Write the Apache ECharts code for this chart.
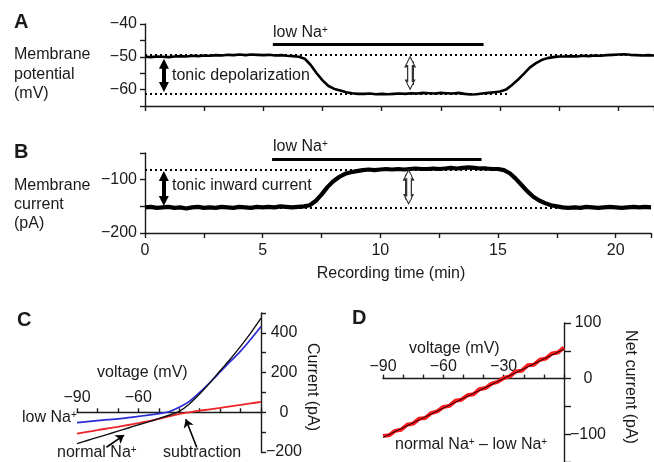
<!DOCTYPE html>
<html lang="en">
<head>
<meta charset="UTF-8">
<script src="https://cdn.jsdelivr.net/npm/echarts@6.0.0/dist/echarts.min.js"></script>
<title>low Na+ recording</title>
<style>
  body { margin: 0; background: #fff; }
  #main { width: 654px; height: 462px; }
</style>
</head>
<body>
<div id="main"></div>
<script type="text/javascript">
// ---- panel A / B : time course (min)
var timeMin = [0,0.25,0.5,0.75,1,1.25,1.5,1.75,2,2.25,2.5,2.75,3,3.25,3.5,3.75,4,4.25,4.5,4.75,
  5,5.25,5.5,5.75,6,6.25,6.5,6.75,7,7.25,7.5,7.75,8,8.25,8.5,8.75,9,9.25,9.5,9.75,
  10,10.25,10.5,10.75,11,11.25,11.5,11.75,12,12.25,12.5,12.75,13,13.25,13.5,13.75,14,14.25,14.5,14.75,
  15,15.25,15.5,15.75,16,16.25,16.5,16.75,17,17.25,17.5,17.75,18,18.25,18.5,18.75,19,19.25,19.5,19.75,
  20,20.25,20.5,20.75,21,21.25,21.5];
// membrane potential (mV)
var potentialMv = [-50.0,-50.1,-49.9,-50.0,-50.1,-49.9,-49.8,-49.9,-49.7,-49.8,-49.6,-49.7,-49.5,-49.6,-49.4,
  -49.5,-49.3,-49.5,-49.3,-49.4,-49.5,-49.4,-49.6,-49.5,-49.7,-49.8,-50.0,
  -50.6,-52.5,-55.0,-57.2,-58.9,-59.8,-60.3,-60.8,-61.1,-61.3,
  -61.3,-61.2,-61.4,-61.3,-61.4,-61.3,-61.2,-61.3,-61.1,-61.2,
  -61.0,-61.1,-61.2,-61.0,-61.1,-61.2,-61.0,-61.3,-61.5,-61.4,
  -61.2,-61.0,-60.8,-60.6,
  -60.0,-58.6,-57.0,-55.2,-53.3,-52.0,-51.0,-50.4,-50.1,-49.9,
  -49.9,-49.8,-49.9,-49.7,-49.8,-49.6,-49.7,-49.5,-49.4,-49.3,-49.2,-49.4,-49.5,-49.6,-49.5,-49.6];
// membrane current (pA)
var currentPa = [-152,-151,-153,-152,-151,-153,-152,-154,-152,-151,
  -153,-152,-153,-151,-152,-153,-151,-152,-153,-151,
  -152,-151,-152,-150,-151,-152,-151,
  -150,-148,-140,-128,-114,-103,-95,-89,-86,-84,
  -82,-81,-82,-81,-80,-81,-80,-81,-80,-79,
  -80,-80,-79,-80,-79,-78,-79,-78,-77,-78,
  -79,-79,-80,-80,
  -82,-88,-98,-110,-122,-132,-139,-144,-148,-150,
  -152,-153,-152,-153,-151,-152,-153,-152,-151,-152,-153,-152,-151,-152,-151,-152];

// reference levels, low Na+ bar, arrows
var levelsA = [-49.5, -61.2];      // dotted lines (mV)
var levelsB = [-81, -152];         // dotted lines (pA)
var lowNaMin = [5.4, 14.3];        // low Na+ application (min)
var barA = -46.3, barB = -61;
var arrowSolidA = [[0.8, -52.1], [0.8, -59.2]];
var arrowHollowA = [[11.2, -51.4], [11.2, -58.6]];
var arrowSolidB = [[0.8, -93], [0.8, -140]];
var arrowHollowB = [[11.2, -91], [11.2, -137]];

// ---- panel C : I-V curves
var voltC = [-90,-85,-80,-75,-70,-65,-60,-55,-50,-45,-40,-35,-30,-25,-20,-15,-10,-5,0];
var normalNa = [-158,-142,-126,-111,-95,-79,-63,-48,-32,-15,5,42,92,148,209,268,332,400,474];
var lowNa = [-52,-47,-42,-37,-33,-27,-21,-14,-7,3,25,55,100,150,203,256,308,368,432];
var subtraction = [-108,-99,-90,-81,-73,-64,-55,-45,-33,-21,-9,0,8,15,22,30,37,45,52];
var pointerNormal = [[-75.6, -176], [-67, -115]];
var pointerSub = [[-31.4, -177], [-36.8, -35]];

// ---- panel D : net current
var voltD = [-90,-87,-84,-81,-78,-75,-72,-69,-66,-63,-60,-57,-54,-51,-48,-45,-42,-39,-36,-33,
  -30,-27,-24,-21,-18,-15,-12,-9,-6,-3,0];
var netCurrent = [-103,-102,-94,-92,-83,-81,-72,-71,-62,-59,-51,-49,-40,-38,-30,-28,-19,-17,-9,-6,
  1,4,13,14,24,25,34,36,45,47,56];
var fitVolt = [-90, 0];
var fitCurrent = [-106, 53];

function zip(a, b) { return a.map(function (v, i) { return [v, b[i]]; }); }
function minus(v) { return v < 0 ? '\u2212' + Math.abs(v) : String(v); }

var FONT = 'Liberation Sans';
var INK = '#1a1a1a';
var axisLine = { show: true, onZero: false, lineStyle: { color: INK, width: 1.4 } };
var tickStyle = { color: INK, width: 1.4 };
var labelFont = { color: INK, fontSize: 16, fontFamily: FONT };

function txt(x, y, s, extra) {
  var st = { text: s, fill: INK, fontSize: 16, fontFamily: FONT, textVerticalAlign: 'middle' };
  for (var k in extra) st[k] = extra[k];
  return { type: 'text', x: x, y: y, style: st, silent: true };
}
var supRich = { s: { fontSize: 10, fontFamily: FONT, fill: INK, verticalAlign: 'top' } };

// voltage axis for C and D: line + ticks sit on I = 0, pointing up
function voltAxis(grid) {
  return { gridIndex: grid, type: 'value', position: 'top', min: -90, max: 0, interval: 10,
    axisLine: { show: true, onZero: true, lineStyle: { color: INK, width: 1.4 } },
    axisTick: { length: 4, lineStyle: tickStyle }, axisLabel: { show: false }, splitLine: { show: false } };
}
// thin helper grid whose top edge is the I = 0 line, only to carry the voltage labels
function voltLabels(grid, shown) {
  return { gridIndex: grid, type: 'value', position: 'top', min: -90, max: 0, interval: 10,
    axisLine: { show: false }, axisTick: { show: false }, splitLine: { show: false },
    axisLabel: Object.assign({ margin: 6, formatter: function (v) { return shown.indexOf(v) >= 0 ? minus(v) : ''; } }, labelFont) };
}

var chart = echarts.init(document.getElementById('main'));
var option = {
  animation: false,
  grid: [
    { left: 145, top: 24, width: 509, height: 82 },
    { left: 145, top: 153, width: 509, height: 80 },
    { left: 77, top: 313, width: 184, height: 139 },
    { left: 383, top: 323, width: 181, height: 145 },
    { left: 77, top: 412, width: 184, height: 1 },
    { left: 383, top: 381, width: 181, height: 1 }
  ],
  xAxis: [
    { gridIndex: 0, type: 'value', min: 0, max: 21.5, interval: 2.5, axisLine: axisLine,
      axisTick: { length: 5, lineStyle: tickStyle }, axisLabel: { show: false }, splitLine: { show: false } },
    { gridIndex: 1, type: 'value', min: 0, max: 21.5, interval: 2.5, axisLine: axisLine,
      axisTick: { length: 5, lineStyle: tickStyle },
      axisLabel: Object.assign({ margin: 10, formatter: function (v) { return v % 5 === 0 ? String(v) : ''; } }, labelFont),
      splitLine: { show: false } },
    voltAxis(2),
    voltAxis(3),
    voltLabels(4, [-90, -60]),
    voltLabels(5, [-90, -60, -30])
  ],
  yAxis: [
    { gridIndex: 0, type: 'value', min: -65, max: -40, interval: 5, axisLine: axisLine,
      axisTick: { length: 5, lineStyle: tickStyle },
      axisLabel: Object.assign({ margin: 8, formatter: function (v) { return v % 10 === 0 ? minus(v) : ''; } }, labelFont),
      splitLine: { show: false } },
    { gridIndex: 1, type: 'value', min: -200, max: -50, interval: 50, axisLine: axisLine,
      axisTick: { length: 5, lineStyle: tickStyle },
      axisLabel: Object.assign({ margin: 8, formatter: function (v) { return v % 100 === 0 ? minus(v) : ''; } }, labelFont),
      splitLine: { show: false } },
    { gridIndex: 2, type: 'value', position: 'right', min: -200, max: 500, interval: 100,
      axisLine: { show: true, onZero: false, lineStyle: { color: INK, width: 1.4 } },
      axisTick: { length: 5, lineStyle: tickStyle },
      axisLabel: Object.assign({ margin: 23, align: 'center',
        formatter: function (v) { return (v % 200 === 0 && v !== 500) ? minus(v) : ''; } }, labelFont),
      splitLine: { show: false } },
    { gridIndex: 3, type: 'value', position: 'right', min: -150, max: 100, interval: 50,
      axisLine: { show: true, onZero: false, lineStyle: { color: INK, width: 1.4 } },
      axisTick: { length: 7, lineStyle: tickStyle },
      axisLabel: Object.assign({ margin: 24, align: 'center',
        formatter: function (v) { return v % 100 === 0 ? minus(v) : ''; } }, labelFont),
      splitLine: { show: false } },
    { gridIndex: 4, type: 'value', show: false, min: 0, max: 1 },
    { gridIndex: 5, type: 'value', show: false, min: 0, max: 1 }
  ],
  series: [
    { name: 'potential', type: 'line', xAxisIndex: 0, yAxisIndex: 0, data: zip(timeMin, potentialMv),
      showSymbol: false, lineStyle: { color: '#000', width: 2.6 }, z: 3,
      markLine: { silent: true, symbol: ['none', 'none'], label: { show: false },
        lineStyle: { color: '#000', width: 2, type: [2, 3] },
        data: [
          [{ coord: [0, levelsA[0]] }, { coord: [21.5, levelsA[0]] }],
          [{ coord: [0, levelsA[1]] }, { coord: [15.3, levelsA[1]] }],
          [{ coord: [lowNaMin[0], barA], lineStyle: { type: 'solid', width: 3 } }, { coord: [lowNaMin[1], barA] }]
        ] } },
    { name: 'current', type: 'line', xAxisIndex: 1, yAxisIndex: 1, data: zip(timeMin, currentPa),
      showSymbol: false, lineStyle: { color: '#000', width: 4.2 }, z: 3,
      markLine: { silent: true, symbol: ['none', 'none'], label: { show: false },
        lineStyle: { color: '#000', width: 2, type: [2, 3] },
        data: [
          [{ coord: [0, levelsB[0]] }, { coord: [15.3, levelsB[0]] }],
          [{ coord: [0, levelsB[1]] }, { coord: [21.5, levelsB[1]] }],
          [{ coord: [lowNaMin[0], barB], lineStyle: { type: 'solid', width: 3 } }, { coord: [lowNaMin[1], barB] }]
        ] } },
    // solid double arrows
    { type: 'lines', coordinateSystem: 'cartesian2d', xAxisIndex: 0, yAxisIndex: 0, silent: true, z: 5,
      symbol: ['triangle', 'triangle'], symbolSize: [10, 10], lineStyle: { color: '#000', width: 4, opacity: 1 },
      data: [{ coords: arrowSolidA }] },
    { type: 'lines', coordinateSystem: 'cartesian2d', xAxisIndex: 1, yAxisIndex: 1, silent: true, z: 5,
      symbol: ['triangle', 'triangle'], symbolSize: [10, 10], lineStyle: { color: '#000', width: 4, opacity: 1 },
      data: [{ coords: arrowSolidB }] },
    // hollow double arrows: dark outline, white core
    { type: 'lines', coordinateSystem: 'cartesian2d', xAxisIndex: 0, yAxisIndex: 0, silent: true, z: 5,
      symbol: ['triangle', 'triangle'], symbolSize: [12, 11], lineStyle: { color: '#333', width: 7, opacity: 1 },
      data: [{ coords: arrowHollowA }] },
    { type: 'lines', coordinateSystem: 'cartesian2d', xAxisIndex: 0, yAxisIndex: 0, silent: true, z: 6,
      symbol: ['triangle', 'triangle'], symbolSize: [7, 6], lineStyle: { color: '#fff', width: 3.5, opacity: 1 },
      data: [{ coords: arrowHollowA }] },
    { type: 'lines', coordinateSystem: 'cartesian2d', xAxisIndex: 1, yAxisIndex: 1, silent: true, z: 5,
      symbol: ['triangle', 'triangle'], symbolSize: [12, 11], lineStyle: { color: '#333', width: 7, opacity: 1 },
      data: [{ coords: arrowHollowB }] },
    { type: 'lines', coordinateSystem: 'cartesian2d', xAxisIndex: 1, yAxisIndex: 1, silent: true, z: 6,
      symbol: ['triangle', 'triangle'], symbolSize: [7, 6], lineStyle: { color: '#fff', width: 3.5, opacity: 1 },
      data: [{ coords: arrowHollowB }] },
    // panel C
    { name: 'low Na+', type: 'line', xAxisIndex: 2, yAxisIndex: 2, data: zip(voltC, lowNa), smooth: 0.3,
      showSymbol: false, lineStyle: { color: '#2b2bd6', width: 1.7 } },
    { name: 'subtraction', type: 'line', xAxisIndex: 2, yAxisIndex: 2, data: zip(voltC, subtraction), smooth: 0.3,
      showSymbol: false, lineStyle: { color: '#ec2428', width: 1.8 } },
    { name: 'normal Na+', type: 'line', xAxisIndex: 2, yAxisIndex: 2, data: zip(voltC, normalNa), smooth: 0.3,
      showSymbol: false, lineStyle: { color: '#111', width: 1.4 } },
    { type: 'lines', coordinateSystem: 'cartesian2d', xAxisIndex: 2, yAxisIndex: 2, silent: true, z: 5,
      symbol: ['none', 'arrow'], symbolSize: 8, lineStyle: { color: '#000', width: 1.6, opacity: 1 },
      data: [{ coords: pointerNormal }, { coords: pointerSub }] },
    // panel D
    { name: 'net', type: 'line', xAxisIndex: 3, yAxisIndex: 3, data: zip(voltD, netCurrent),
      showSymbol: false, lineStyle: { color: '#ff1a1a', width: 4 } },
    { name: 'fit', type: 'line', xAxisIndex: 3, yAxisIndex: 3, data: zip(fitVolt, fitCurrent),
      showSymbol: false, lineStyle: { color: '#000', width: 0.9 } }
  ],
  graphic: [
    txt(14, 22, 'A', { fontWeight: 'bold', fontSize: 20 }),
    txt(14, 55, 'Membrane'), txt(14, 75, 'potential'), txt(14, 94, '(mV)'),
    txt(14, 152, 'B', { fontWeight: 'bold', fontSize: 20 }),
    txt(14, 186, 'Membrane'), txt(14, 205, 'current'), txt(14, 224, '(pA)'),
    txt(273, 33, 'low Na{s|+}', { rich: supRich }),
    txt(273, 147, 'low Na{s|+}', { rich: supRich }),
    txt(172, 76, 'tonic depolarization'),
    txt(172, 186, 'tonic inward current'),
    txt(391, 274, 'Recording time (min)', { textAlign: 'center' }),
    txt(17, 320, 'C', { fontWeight: 'bold', fontSize: 20 }),
    txt(97, 373, 'voltage (mV)'),
    txt(22, 418, 'low Na{s|+}', { rich: supRich }),
    txt(57, 453, 'normal Na{s|+}', { rich: supRich }),
    txt(163, 453, 'subtraction'),
    { type: 'text', x: 312, y: 387, rotation: -Math.PI / 2, silent: true,
      style: { text: 'Current (pA)', fill: INK, fontSize: 16, fontFamily: FONT, textAlign: 'center', textVerticalAlign: 'middle' } },
    txt(352, 318, 'D', { fontWeight: 'bold', fontSize: 20 }),
    txt(409, 349, 'voltage (mV)'),
    txt(395, 445, 'normal Na{s|+} \u2013 low Na{s|+}', { rich: supRich }),
    { type: 'text', x: 630, y: 387, rotation: -Math.PI / 2, silent: true,
      style: { text: 'Net current (pA)', fill: INK, fontSize: 16, fontFamily: FONT, textAlign: 'center', textVerticalAlign: 'middle' } }
  ]
};
chart.setOption(option);
</script>
</body>
</html>
